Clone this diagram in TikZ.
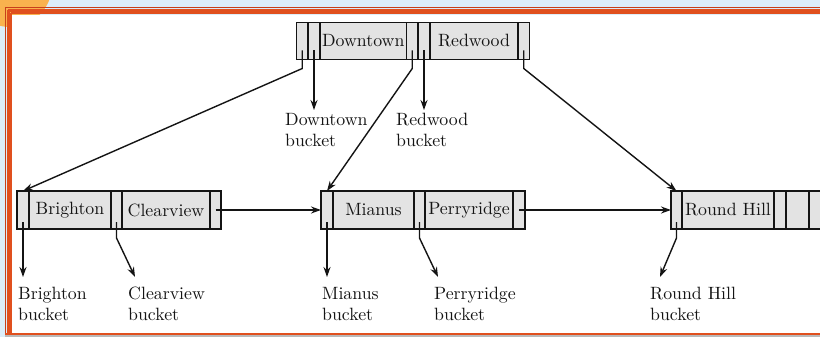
\documentclass[tikz,border=0pt]{standalone}
\usetikzlibrary{arrows.meta}
\definecolor{skyb}{HTML}{DCEEFA}
\definecolor{orD}{HTML}{C8401A}
\definecolor{orM}{HTML}{E0501E}
\definecolor{orC}{HTML}{F9B24E}
\definecolor{cellg}{HTML}{E3E3E3}
\definecolor{ink}{HTML}{141414}
\newcommand{\bigtxt}[1]{\scalebox{1.78}{#1}}
\tikzset{
  cell/.style={draw=ink, fill=cellg, line width=1.4pt, inner sep=0pt, outer sep=0pt, anchor=north west, text=ink, font=\fontsize{10}{12}\selectfont},
  toprow/.style={cell, minimum height=37pt},
  leaf/.style={cell, minimum height=38pt},
  lbl/.style={anchor=north west, inner sep=0pt, align=left, text=ink, font=\fontsize{10}{21}\selectfont},
  arr/.style={draw=ink, line width=1.4pt, -{Stealth[length=10pt,width=7pt]}}
}
\begin{document}
\begin{tikzpicture}[x=1pt,y=-1pt]
\clip (0,0) rectangle (820,337);
% slide frame
\fill[skyb] (0,0) rectangle (820,337);
\fill[orC] (10,-15) circle[radius=42];
\fill[white] (12,15) rectangle (820,333);
\draw[orD, line width=1pt] (5,7.5) -- (820,7.5);
\draw[orM, line width=2.5pt] (7.5,10.5) -- (820,10.5);
\draw[orM, line width=2pt] (10.5,13.5) -- (820,13.5);
\draw[orD, line width=1pt] (5.5,7) -- (5.5,335);
\draw[orM, line width=2.5pt] (8.5,10) -- (8.5,335);
\draw[orM, line width=2pt] (11,13) -- (11,335);
\fill[gray!55] (5,335) rectangle (820,337);
\draw[orM, line width=1.8pt] (5,334) -- (820,334);
% root node
\node[toprow, minimum width=11.5pt] (t1) at (296.5,22.5) {};
\node[toprow, minimum width=12pt] (t2) at (308,22.5) {};
\node[toprow, minimum width=86.5pt] (tD) at (320,22.5) {\bigtxt{Downtown}};
\node[toprow, minimum width=11.5pt] (t4) at (406.5,22.5) {};
\node[toprow, minimum width=12pt] (t5) at (418,22.5) {};
\node[toprow, minimum width=88pt] (tR) at (430,22.5) {\bigtxt{Redwood}};
\node[toprow, minimum width=11.5pt] (t7) at (518,22.5) {};
% left leaf
\node[leaf, minimum width=12pt] (l1) at (17,191) {};
\node[leaf, minimum width=82pt] (lB) at (29,191) {\bigtxt{Brighton}};
\node[leaf, minimum width=11pt] (l3) at (111,191) {};
\node[leaf, minimum width=88pt] (lC) at (122,191) {\bigtxt{Clearview}};
\node[leaf, minimum width=11pt] (l5) at (210,191) {};
% middle leaf
\node[leaf, minimum width=12pt] (m1) at (321,191) {};
\node[leaf, minimum width=81pt] (mM) at (333,191) {\bigtxt{Mianus}};
\node[leaf, minimum width=11pt] (m3) at (414,191) {};
\node[leaf, minimum width=88pt] (mP) at (425,191) {\bigtxt{Perryridge}};
\node[leaf, minimum width=12pt] (m5) at (513,191) {};
% right leaf
\node[leaf, minimum width=11pt] (r1) at (671,191) {};
\node[leaf, minimum width=92pt] (rR) at (682,191) {\bigtxt{Round Hill}};
\node[leaf, minimum width=12pt] (r3) at (774,191) {};
\node[leaf, minimum width=23pt] (r4) at (786,191) {};
\node[leaf, minimum width=14pt] (r5) at (809,191) {};
% labels
\node[lbl] (dlab) at (285,113) {\bigtxt{Downtown}\\\bigtxt{bucket}};
\node[lbl] (rlab) at (396,113) {\bigtxt{Redwood}\\\bigtxt{bucket}};
\node[lbl] (blab) at (18,287) {\bigtxt{Brighton}\\\bigtxt{bucket}};
\node[lbl] (clab) at (128,287) {\bigtxt{Clearview}\\\bigtxt{bucket}};
\node[lbl] (mlab) at (322,287) {\bigtxt{Mianus}\\\bigtxt{bucket}};
\node[lbl] (plab) at (434,287) {\bigtxt{Perryridge}\\\bigtxt{bucket}};
\node[lbl] (rhlab) at (650,287) {\bigtxt{Round Hill}\\\bigtxt{bucket}};
% connectors
\draw[arr] ([yshift=9pt]t1.south) -- ([yshift=-9pt]t1.south) -- (l1.north);
\draw[arr, shorten >=3pt] ([yshift=9pt]t2.south) -- (t2.south |- dlab.north);
\draw[arr] ([yshift=9pt]t4.south) -- ([yshift=-9pt]t4.south) -- (m1.north);
\draw[arr, shorten >=3pt] ([yshift=9pt]t5.south) -- (t5.south |- rlab.north);
\draw[arr] ([yshift=9pt]t7.south) -- ([yshift=-9pt]t7.south) -- (r1.north);
\draw[arr] (l5.center) -- (m1.west);
\draw[arr] (m5.center) -- (r1.west);
\draw[arr, shorten >=10pt] ([yshift=7pt]l1.south) -- (l1.south |- blab.north);
\draw[arr] ([yshift=7pt]l3.south) -- ([yshift=-9pt]l3.south) -- ([xshift=7pt,yshift=10pt]clab.north west);
\draw[arr, shorten >=10pt] ([yshift=7pt]m1.south) -- (m1.south |- mlab.north);
\draw[arr] ([yshift=7pt]m3.south) -- ([yshift=-9pt]m3.south) -- ([xshift=4pt,yshift=10pt]plab.north west);
\draw[arr] ([yshift=7pt]r1.south) -- ([yshift=-9pt]r1.south) -- ([xshift=10pt,yshift=10pt]rhlab.north west);
\end{tikzpicture}
\end{document}
